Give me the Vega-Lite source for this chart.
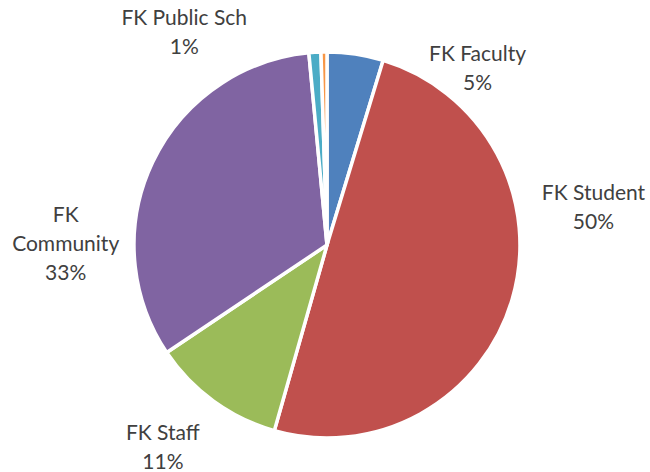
{
  "$schema": "https://vega.github.io/schema/vega-lite/v6.json",
  "width": 646,
  "height": 454,
  "autosize": {"type": "none"},
  "padding": {"left": 4, "top": 18, "right": 0, "bottom": 0},
  "background": "white",
  "config": {"view": {"stroke": null}},
  "data": {
    "values": [
      {"seq": 1, "category": "FK Faculty", "share": 4.7, "label": "FK Faculty\n5%"},
      {"seq": 2, "category": "FK Student", "share": 49.7, "label": "FK Student\n50%"},
      {"seq": 3, "category": "FK Staff", "share": 11.2, "label": "FK Staff\n11%"},
      {"seq": 4, "category": "FK Community", "share": 32.9, "label": "FK\nCommunity\n33%"},
      {"seq": 5, "category": "FK Public Sch", "share": 1.0, "label": "FK Public Sch\n1%"},
      {"seq": 6, "category": "Other", "share": 0.5, "label": ""}
    ]
  },
  "encoding": {
    "theta": {"field": "share", "type": "quantitative", "stack": true},
    "order": {"field": "seq", "type": "ordinal"},
    "detail": {"field": "category", "type": "nominal"}
  },
  "layer": [
    {
      "mark": {"type": "arc", "outerRadius": 193, "stroke": "white", "strokeWidth": 3.5},
      "encoding": {
        "color": {
          "field": "category",
          "type": "nominal",
          "scale": {
            "domain": ["FK Faculty", "FK Student", "FK Staff", "FK Community", "FK Public Sch", "Other"],
            "range": ["#4F81BD", "#C0504D", "#9BBB59", "#8064A2", "#4BACC6", "#F79646"]
          },
          "legend": null
        }
      }
    },
    {
      "mark": {"type": "text", "radius": 235, "dx": 116, "dy": 42, "font": "Lato", "fontSize": 21, "lineHeight": 29, "lineBreak": "\n", "fill": "#404040", "align": "center", "baseline": "middle"},
      "encoding": {"text": {"condition": {"test": "datum.category === 'FK Faculty'", "field": "label", "type": "nominal"}, "value": ""}}
    },
    {
      "mark": {"type": "text", "radius": 235, "dx": 41, "dy": -117, "font": "Lato", "fontSize": 21, "lineHeight": 29, "lineBreak": "\n", "fill": "#404040", "align": "center", "baseline": "middle"},
      "encoding": {"text": {"condition": {"test": "datum.category === 'FK Student'", "field": "label", "type": "nominal"}, "value": ""}}
    },
    {
      "mark": {"type": "text", "radius": 235, "dx": -26, "dy": -1, "font": "Lato", "fontSize": 21, "lineHeight": 29, "lineBreak": "\n", "fill": "#404040", "align": "center", "baseline": "middle"},
      "encoding": {"text": {"condition": {"test": "datum.category === 'FK Staff'", "field": "label", "type": "nominal"}, "value": ""}}
    },
    {
      "mark": {"type": "text", "radius": 235, "dx": -49, "dy": 72, "font": "Lato", "fontSize": 21, "lineHeight": 29, "lineBreak": "\n", "fill": "#404040", "align": "center", "baseline": "middle"},
      "encoding": {"text": {"condition": {"test": "datum.category === 'FK Community'", "field": "label", "type": "nominal"}, "value": ""}}
    },
    {
      "mark": {"type": "text", "radius": 235, "dx": -128, "dy": 9, "font": "Lato", "fontSize": 21, "lineHeight": 29, "lineBreak": "\n", "fill": "#404040", "align": "center", "baseline": "middle"},
      "encoding": {"text": {"condition": {"test": "datum.category === 'FK Public Sch'", "field": "label", "type": "nominal"}, "value": ""}}
    }
  ]
}
